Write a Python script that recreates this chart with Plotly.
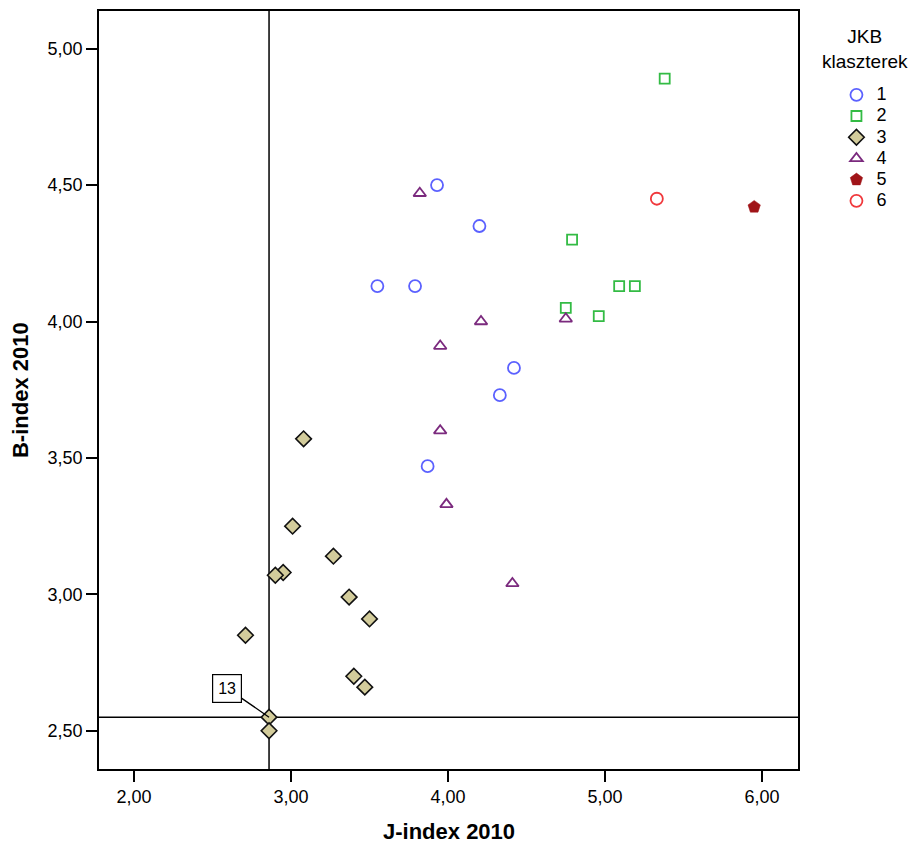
import plotly.graph_objects as go

# Cluster data: J-index 2010 (x), B-index 2010 (y)
c1_x = [3.55, 3.79, 3.93, 4.20, 4.42, 4.33, 3.87]
c1_y = [4.13, 4.13, 4.50, 4.35, 3.83, 3.73, 3.47]

c2_x = [5.38, 4.79, 4.75, 4.96, 5.09, 5.19]
c2_y = [4.89, 4.30, 4.05, 4.02, 4.13, 4.13]

c3_x = [3.08, 3.01, 3.27, 2.95, 2.90, 3.37, 3.50, 2.71, 3.40, 3.47, 2.86, 2.86]
c3_y = [3.57, 3.25, 3.14, 3.08, 3.07, 2.99, 2.91, 2.85, 2.70, 2.66, 2.55, 2.50]

c4_x = [3.82, 4.21, 3.95, 3.95, 3.99, 4.41, 4.75]
c4_y = [4.47, 4.00, 3.91, 3.60, 3.33, 3.04, 4.01]

c5_x = [5.95]
c5_y = [4.42]

c6_x = [5.33]
c6_y = [4.45]

cluster_names = ["1", "2", "3", "4", "5", "6"]

ref_x = 2.86
ref_y = 2.55
label_point = (2.86, 2.55)
label_text = "13"

x_ticks = [2, 3, 4, 5, 6]
y_ticks = [2.5, 3.0, 3.5, 4.0, 4.5, 5.0]

FONT = "Liberation Sans, Arial, sans-serif"


def lname(s):
    return "<span style='font-size:18px'>" + s + "</span>"


fig = go.Figure()

fig.add_trace(go.Scatter(x=c1_x, y=c1_y, mode="markers", name=lname(cluster_names[0]),
                         marker=dict(symbol="circle-open", size=12, color="#5b61ff",
                                     line=dict(width=1.8, color="#5b61ff"))))
fig.add_trace(go.Scatter(x=c2_x, y=c2_y, mode="markers", name=lname(cluster_names[1]),
                         marker=dict(symbol="square-open", size=10, color="#33bb44",
                                     line=dict(width=1.8, color="#33bb44"))))
fig.add_trace(go.Scatter(x=c3_x, y=c3_y, mode="markers", name=lname(cluster_names[2]),
                         marker=dict(symbol="diamond", size=12, color="#d3cc9b",
                                     line=dict(width=1.6, color="#111111"))))
fig.add_trace(go.Scatter(x=c4_x, y=c4_y, mode="markers", name=lname(cluster_names[3]),
                         marker=dict(symbol="triangle-up-open", size=11, color="#7b2a7e",
                                     line=dict(width=1.8, color="#7b2a7e"))))
fig.add_trace(go.Scatter(x=c5_x, y=c5_y, mode="markers", name=lname(cluster_names[4]),
                         marker=dict(symbol="pentagon", size=13, color="#a01418",
                                     line=dict(width=0.5, color="#a01418"))))
fig.add_trace(go.Scatter(x=c6_x, y=c6_y, mode="markers", name=lname(cluster_names[5]),
                         marker=dict(symbol="circle-open", size=12, color="#f0383c",
                                     line=dict(width=1.8, color="#f0383c"))))

# reference lines
fig.add_shape(type="line", xref="x", yref="paper", x0=ref_x, x1=ref_x, y0=0, y1=1,
              line=dict(color="black", width=1.5), layer="below")
fig.add_shape(type="line", xref="paper", yref="y", x0=0, x1=1, y0=ref_y, y1=ref_y,
              line=dict(color="black", width=1.5), layer="below")

fig.add_annotation(x=label_point[0], y=label_point[1], text=label_text,
                   showarrow=True, arrowhead=0, arrowwidth=1.3, arrowcolor="black",
                   ax=-42, ay=-29, bordercolor="black", borderwidth=1.2, borderpad=5,
                   bgcolor="white", font=dict(family=FONT, size=16, color="black"))

# axis titles
fig.add_annotation(xref="paper", yref="paper", x=0.5, y=-0.0831, text="<b>J-index 2010</b>",
                   showarrow=False, xanchor="center", yanchor="middle",
                   font=dict(family=FONT, size=22, color="black"))
fig.add_annotation(xref="paper", yref="paper", x=-0.113, y=0.5, text="<b>B-index 2010</b>",
                   showarrow=False, xanchor="center", yanchor="middle", textangle=-90,
                   font=dict(family=FONT, size=22, color="black"))
# legend title
fig.add_annotation(xref="paper", yref="paper", x=1.0959, y=0.9505, text="JKB<br>klaszterek",
                   showarrow=False, xanchor="center", yanchor="middle",
                   font=dict(family=FONT, size=19, color="black"))

axis_common = dict(showgrid=False, zeroline=False, showline=True, linecolor="black",
                   linewidth=1.7, mirror=True, ticks="outside", ticklen=11,
                   tickwidth=1.7, tickcolor="black", tickformat=".2f", automargin=False,
                   tickfont=dict(family=FONT, size=18, color="black"))

fig.update_xaxes(range=[1.777, 6.229], tickvals=x_ticks, **axis_common)
fig.update_yaxes(range=[2.360, 5.138], tickvals=y_ticks, **axis_common)

fig.update_layout(
    width=917, height=849,
    margin=dict(l=99, r=119, t=11, b=80, autoexpand=False),
    plot_bgcolor="white", paper_bgcolor="white",
    separators=",.",
    font=dict(family=FONT, color="black"),
    showlegend=True,
    legend=dict(x=1.055, y=0.910, xanchor="left", yanchor="top",
                font=dict(family=FONT, size=14, color="black"),
                tracegroupgap=0, itemwidth=30, bgcolor="rgba(0,0,0,0)"),
)

fig.write_html("out.html", config={"displayModeBar": False},
               post_script="document.body.style.margin='0px';")
